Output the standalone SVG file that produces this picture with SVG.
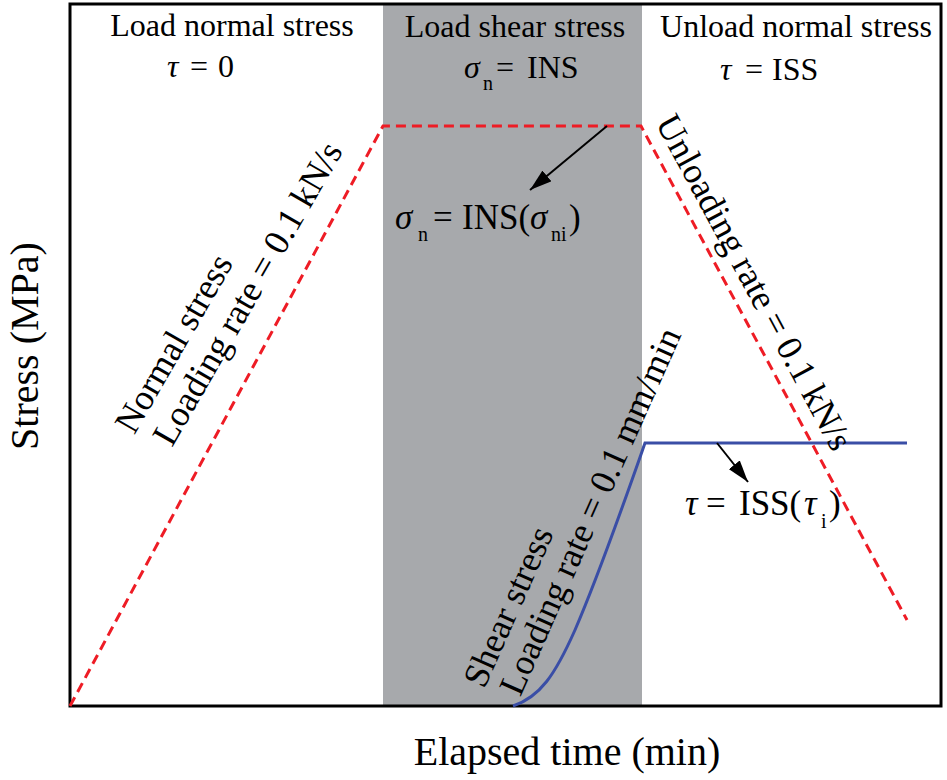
<svg xmlns="http://www.w3.org/2000/svg" width="947" height="780" viewBox="0 0 947 780">
<style>
text{font-family:"Liberation Serif","Times New Roman",serif;fill:#000}
.h{font-size:32px}
.big{font-size:36px}
.lab{font-size:35px}
.ax{font-size:40px}
.it{font-style:italic}
.sub{font-size:20px}
.red{fill:none;stroke:#ee1c25;stroke-width:3;stroke-dasharray:10 6}
.blue{fill:none;stroke:#3a4ea6;stroke-width:3}
.arr{stroke:#000;stroke-width:2;fill:none;marker-end:url(#ah)}
</style>
<defs>
<marker id="ah" markerUnits="userSpaceOnUse" viewBox="0 0 22 14" refX="22" refY="7" markerWidth="22" markerHeight="14" orient="auto">
<path d="M0,0 L22,7 L0,14 Z" fill="#000"/>
</marker>
</defs>
<rect width="947" height="780" fill="#fff"/>
<g id="band-shear">
<rect x="383" y="5" width="259" height="701" fill="#a7a9ac"/>
</g>
<g id="frame">
<rect x="70" y="4" width="871" height="702" fill="none" stroke="#000" stroke-width="3"/>
</g>
<g id="connectors">
<path class="red" d="M70,706 L383,126 L641,126 L907,620"/>
<path class="blue" d="M513,706 C540,697 555,675 575,630 C600,572 625,500 645,443 L907,443"/>
<line class="arr" x1="607" y1="126" x2="530" y2="190"/>
<line class="arr" x1="717" y1="443" x2="748" y2="482"/>
</g>
<g id="header-load-normal">
<text class="h" x="232" y="36" text-anchor="middle">Load normal stress</text>
<text class="h it" x="167" y="77">τ</text>
<text class="h" x="190" y="77">=</text>
<text class="h" x="218" y="77">0</text>
</g>
<g id="header-load-shear">
<text class="h" x="515" y="37" text-anchor="middle">Load shear stress</text>
<text class="h it" x="464" y="78">σ</text>
<text class="sub" x="483" y="90">n</text>
<text class="h" x="496" y="78">=</text>
<text class="h" x="527" y="78">INS</text>
</g>
<g id="header-unload-normal">
<text class="h" x="796" y="37" text-anchor="middle">Unload normal stress</text>
<text class="h it" x="720" y="80">τ</text>
<text class="h" x="745" y="80">=</text>
<text class="h" x="772" y="80">ISS</text>
</g>
<g id="label-ins">
<text class="lab it" x="395" y="229">σ</text>
<text class="sub" x="418" y="241">n</text>
<text class="lab" x="433" y="229">=</text>
<text class="lab" x="462" y="229">INS(</text>
<text class="lab it" x="530" y="229">σ</text>
<text class="sub" x="551" y="241">ni</text>
<text class="lab" x="569" y="229">)</text>
</g>
<g id="label-iss">
<text class="lab it" x="685" y="515">τ</text>
<text class="lab" x="706" y="515">=</text>
<text class="lab" x="739" y="515">ISS(</text>
<text class="lab it" x="804" y="515">τ</text>
<text class="sub" x="821" y="528">i</text>
<text class="lab" x="829" y="515">)</text>
</g>
<g id="label-normal-rate" transform="translate(172,448) rotate(-60)">
<text class="big" x="-8" y="-39">Normal stress</text>
<text class="big" x="0" y="0">Loading rate = 0.1 kN/s</text>
</g>
<g id="label-shear-rate" transform="translate(601,516) rotate(-66)">
<text class="big" x="-206" y="-36">Shear stress</text>
<text class="big" x="0" y="0" text-anchor="middle">Loading rate = 0.1 mm/min</text>
</g>
<g id="label-unload-rate" transform="translate(744,288) rotate(61.7)">
<text class="big" x="0" y="0" text-anchor="middle">Unloading rate = 0.1 kN/s</text>
</g>
<g id="axis-labels">
<text class="ax" x="567" y="765" text-anchor="middle">Elapsed time (min)</text>
<text class="ax" transform="translate(38,346) rotate(-90)" x="0" y="0" text-anchor="middle">Stress (MPa)</text>
</g>
</svg>
